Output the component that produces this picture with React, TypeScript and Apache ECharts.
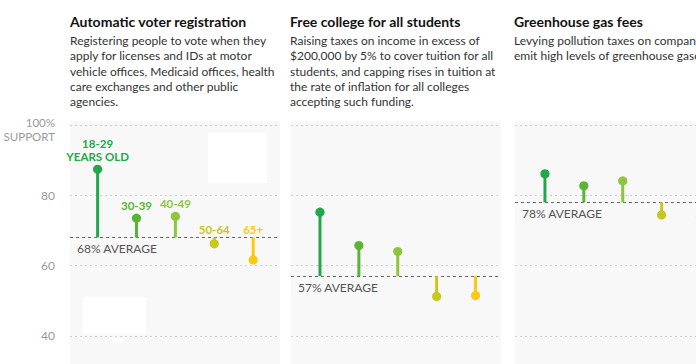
import React, { useEffect, useRef } from "react";
import * as echarts from "echarts";

const AGE_GROUPS = ["18-29", "30-39", "40-49", "50-64", "65+"];
const AGE_LABELS = ["18-29\nYEARS OLD", "30-39", "40-49", "50-64", "65+"];
const COLORS = ["#22a84a", "#5ab533", "#8dc63c", "#c8c81c", "#f8ca12"];

const TITLES = ["Automatic voter registration", "Free college for all students", "Greenhouse gas fees"];
const DESCRIPTIONS = [
  "Registering people to vote when they\napply for licenses and IDs at motor\nvehicle offices, Medicaid offices, health\ncare exchanges and other public\nagencies.",
  "Raising taxes on income in excess of\n$200,000 by 5% to cover tuition for all\nstudents, and capping rises in tuition at\nthe rate of inflation for all colleges\naccepting such funding.",
  "Levying pollution taxes on companies that\nemit high levels of greenhouse gases.",
];
const AVERAGES = [68, 57, 78];
const VOTER_REG = [87.4, 73.5, 74, 66.2, 61.6];
const FREE_COLLEGE = [75.2, 65.7, 64, 51.2, 51.5];
const GREENHOUSE = [86.1, 82.7, 84.1, 74.4, 74];
const PANEL_VALUES = [VOTER_REG, FREE_COLLEGE, GREENHOUSE];
const Y_TICKS = [40, 60, 80, 100];

const PANEL_LEFT = [70, 291, 515];
const PANEL_W = 210;
const CHART_W = 696;
const X_MINS = [-0.71, -0.745, -0.77];
const X_RANGE = 5.4;
const FONT = "Lato, Roboto, sans-serif";

export default function App() {
  const ref = useRef<HTMLDivElement>(null);
  useEffect(() => {
    if (!ref.current) return;
    const chart = echarts.init(ref.current, null, { renderer: "svg" });
    const grids: any[] = [];
    const xAxes: any[] = [];
    const yAxes: any[] = [];
    const series: any[] = [];
    const titles: any[] = [];
    const graphics: any[] = [];

    PANEL_LEFT.forEach((left, p) => {
      const w = Math.min(PANEL_W, CHART_W - left);
      graphics.push({
        type: "rect",
        z: 0,
        shape: { x: left, y: 121, width: w, height: 260 },
        style: { fill: "#f8f8f8" },
      });
      titles.push({
        left: p === 0 ? left : left - 1,
        top: 12,
        padding: 0,
        itemGap: 3,
        text: TITLES[p],
        subtext: DESCRIPTIONS[p],
        textStyle: { fontFamily: FONT, fontSize: 14, fontWeight: "bold", color: "#121212", lineHeight: 18 },
        subtextStyle: { fontFamily: FONT, fontSize: 12, color: "#333", lineHeight: 15.3 },
      });
      grids.push({ left, top: 125, width: w, height: 239 });
      xAxes.push({ type: "value", gridIndex: p, min: X_MINS[p], max: X_MINS[p] + (X_RANGE * w) / PANEL_W, show: false });
      yAxes.push({
        type: "value",
        gridIndex: p,
        min: 32,
        max: 100,
        splitNumber: 4,
        axisLine: { show: false },
        axisTick: { show: false },
        splitLine: { show: true, lineStyle: { color: "#cfcfcf", type: [2, 3], width: 1 } },
        axisLabel: {
          show: p === 0,
          showMinLabel: false,
          margin: 15,
          color: "#999",
          fontFamily: FONT,
          fontSize: 12,
          formatter: (v: number) => (v === 100 ? "{s|100%}\n{s|SUPPORT}" : Y_TICKS.includes(v) ? String(v) : ""),
          rich: { s: { color: "#999", fontFamily: FONT, fontSize: 11.5, lineHeight: 14, padding: [9, 0, 0, 0] } },
        },
      });
      const avg = AVERAGES[p];
      series.push({
        type: "custom",
        xAxisIndex: p,
        yAxisIndex: p,
        z: 5,
        clip: false,
        data: PANEL_VALUES[p].map((v, i) => [i, v, avg]),
        renderItem: (params: any, api: any) => {
          const i = api.value(0);
          const v = api.value(1);
          const a = api.value(2);
          const p0 = api.coord([i, a]);
          const p1 = api.coord([i, v]);
          const color = COLORS[i];
          const children: any[] = [
            { type: "line", shape: { x1: p0[0], y1: p0[1], x2: p1[0], y2: p1[1] }, style: { stroke: color, lineWidth: 3 } },
            { type: "circle", shape: { cx: p1[0], cy: p1[1], r: 4.6 }, style: { fill: color } },
          ];
          if (p === 0) {
            const top = Math.min(p1[1] - 4.6, p0[1]) - 2;
            const lines = AGE_LABELS[i].split("\n");
            lines.forEach((ln, k) => {
              children.push({
                type: "text",
                style: {
                  text: ln,
                  x: p1[0],
                  y: top - (lines.length - 1 - k) * 13,
                  align: "center",
                  verticalAlign: "bottom",
                  fill: color,
                  font: `bold 11.5px ${FONT}`,
                },
              });
            });
          }
          return { type: "group", children };
        },
        markLine: {
          silent: true,
          symbol: "none",
          animation: false,
          lineStyle: { color: "#666", type: [3, 3], width: 1 },
          label: {
            position: "insideStartBottom",
            formatter: `${avg}% AVERAGE`,
            color: "#555",
            fontFamily: FONT,
            fontSize: 12,
            distance: [7, 5],
          },
          data: [{ yAxis: avg }],
        },
      });
    });

    graphics.push(
      { type: "rect", z: 10, shape: { x: 208, y: 133, width: 59, height: 50 }, style: { fill: "#ffffff" } },
      { type: "rect", z: 10, shape: { x: 83, y: 297, width: 63, height: 37 }, style: { fill: "#ffffff" } },
      { type: "rect", z: 10, shape: { x: 113, y: 338, width: 11, height: 5 }, style: { fill: "#ffffff" } }
    );

    chart.setOption({
      animation: false,
      backgroundColor: "#ffffff",
      title: titles,
      grid: grids,
      xAxis: xAxes,
      yAxis: yAxes,
      series,
      graphic: graphics,
    });
    return () => chart.dispose();
  }, []);
  return <div ref={ref} style={{ position: "absolute", left: 0, top: 0, width: 696, height: 364 }} />;
}
